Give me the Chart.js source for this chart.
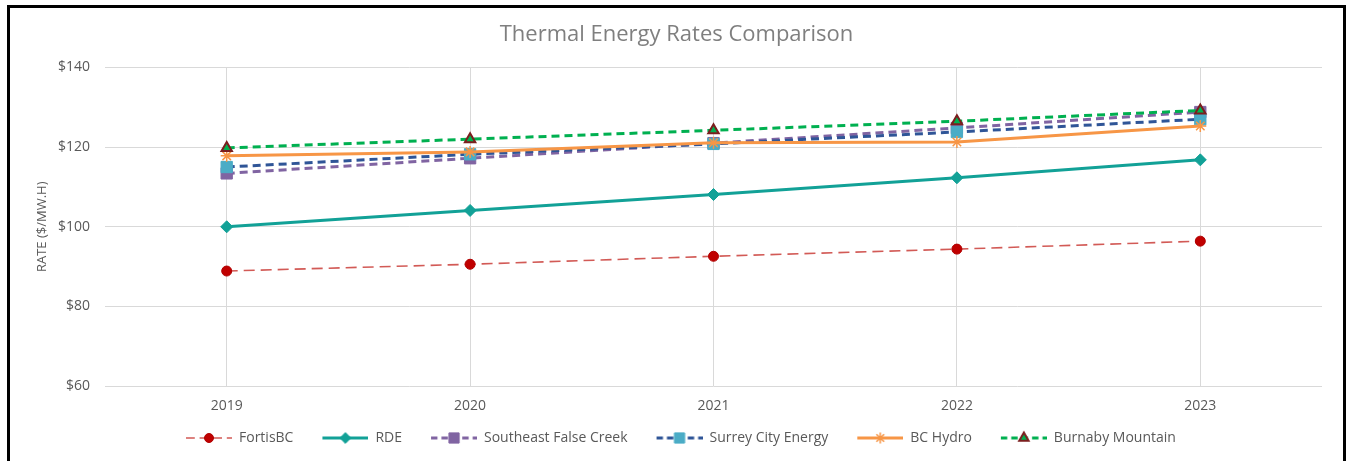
<!DOCTYPE html>
<html>
<head>
<meta charset="utf-8">
<script src="https://cdn.jsdelivr.net/npm/chart.js@4.4.1/dist/chart.umd.min.js"></script>
<style>
  html, body { margin: 0; padding: 0; background: #fff; overflow: hidden; }
  #wrap { position: absolute; left: 0; top: 0; width: 1346px; height: 461px; }
  #frame { position: absolute; left: 7px; top: 5px; width: 1339px; height: 500px;
           box-sizing: border-box; border: 3px solid #000; pointer-events: none; }
</style>
</head>
<body>
<div id="wrap"><canvas id="ratesChart"></canvas></div>
<div id="frame"></div>
<script>
  // Data ($/MW.h)
  const years = ['2019', '2020', '2021', '2022', '2023'];
  const fortisBC = [88.9, 90.6, 92.6, 94.4, 96.4];
  const rde = [100.0, 104.1, 108.1, 112.3, 116.8];
  const southeastFalseCreek = [113.4, 117.2, 121.0, 124.8, 128.8];
  const surreyCityEnergy = [115.0, 118.2, 120.8, 123.8, 127.0];
  const bcHydro = [117.8, 118.8, 121.1, 121.3, 125.3];
  const burnabyMountain = [119.8, 122.0, 124.2, 126.5, 129.2];
  const yTicks = [60, 80, 100, 120, 140];

  const seriesStyle = [
    { label: 'FortisBC', data: fortisBC, line: '#D25A56', width: 1.6, dash: [11, 6], marker: 'circle', radius: 5, fill: '#C00000', edge: '#B00000', edgeW: 1 },
    { label: 'RDE', data: rde, line: '#12A197', width: 3, dash: [], marker: 'rectRot', radius: 6, fill: '#12A197', edge: '#12A197', edgeW: 1 },
    { label: 'Southeast False Creek', data: southeastFalseCreek, line: '#8064A2', width: 3, dash: [8, 5], marker: 'rect', radius: 8, fill: '#8064A2', edge: '#8064A2', edgeW: 1 },
    { label: 'Surrey City Energy', data: surreyCityEnergy, line: '#2F5597', width: 3, dash: [8, 5], marker: 'rect', radius: 8, fill: '#4BACC6', edge: '#4BACC6', edgeW: 1 },
    { label: 'BC Hydro', data: bcHydro, line: '#F79646', width: 3, dash: [], marker: 'star', radius: 6, fill: '#F79646', edge: '#F79646', edgeW: 1.5 },
    { label: 'Burnaby Mountain', data: burnabyMountain, line: '#00B050', width: 3, dash: [8, 5], marker: 'triangle', radius: 6, fill: '#00B050', edge: '#7B1E1E', edgeW: 2 }
  ];

  // small canvas icon: line + marker, like the Excel legend
  const ICON_PAD = 21, ICON_LEN = 46, ICON_H = 16;
  const ICON_W = ICON_PAD + ICON_LEN;
  function legendIcon(s) {
    const c = document.createElement('canvas');
    c.width = ICON_W; c.height = ICON_H;
    const ctx = c.getContext('2d');
    const cy = ICON_H / 2;
    ctx.strokeStyle = s.line;
    ctx.lineWidth = s.width;
    ctx.setLineDash(s.dash.length ? [s.dash[0] * 0.8, s.dash[1] * 0.8] : []);
    ctx.beginPath();
    ctx.moveTo(ICON_PAD, cy);
    ctx.lineTo(ICON_W, cy);
    ctx.stroke();
    ctx.setLineDash([]);
    ctx.fillStyle = s.fill;
    ctx.strokeStyle = s.edge;
    ctx.lineWidth = s.edgeW;
    Chart.helpers.drawPoint(ctx, {
      pointStyle: s.marker, radius: s.radius * 0.9, rotation: 0, borderWidth: s.edgeW
    }, ICON_PAD + ICON_LEN / 2, cy);
    return c;
  }

  // Later series are painted on top, like in Excel
  const datasets = seriesStyle.map(function (s, i) {
    return {
      label: s.label,
      data: s.data,
      borderColor: s.line,
      borderWidth: s.width,
      borderDash: s.dash,
      pointStyle: s.marker,
      pointRadius: s.radius,
      pointBackgroundColor: s.fill,
      pointBorderColor: s.edge,
      pointBorderWidth: s.edgeW,
      tension: 0,
      fill: false,
      order: seriesStyle.length - i
    };
  });

  // nudge legend to where Excel placed it
  const legendSpot = {
    id: 'legendSpot',
    afterLayout(chart) {
      const lg = chart.legend;
      const h = lg.bottom - lg.top;
      lg.left = 186 - ICON_PAD - 8;
      lg.top = 423;
      lg.bottom = lg.top + h;
    }
  };

  const txt = '#595959';
  const ctx = document.getElementById('ratesChart').getContext('2d');
  new Chart(ctx, {
    type: 'line',
    data: { labels: years, datasets: datasets },
    plugins: [legendSpot],
    options: {
      responsive: true,
      maintainAspectRatio: false,
      animation: false,
      layout: { padding: { left: 31, right: 24, top: 5, bottom: 4 } },
      plugins: {
        title: {
          display: true,
          text: 'Thermal Energy Rates Comparison',
          color: '#7F7F7F',
          font: { family: 'Open Sans', size: 22, weight: 'normal' },
          padding: { top: 17, bottom: 19 }
        },
        legend: {
          position: 'bottom',
          align: 'start',
          labels: {
            usePointStyle: true,
            pointStyleWidth: ICON_W,
            padding: 8,
            color: txt,
            font: { family: 'Open Sans', size: 14 },
            generateLabels: function (chart) {
              return seriesStyle.map(function (s, i) {
                return {
                  text: s.label,
                  pointStyle: legendIcon(s),
                  fillStyle: s.fill,
                  strokeStyle: s.edge,
                  lineWidth: 0,
                  fontColor: txt,
                  hidden: !chart.isDatasetVisible(i),
                  datasetIndex: i
                };
              });
            }
          }
        },
        tooltip: { enabled: false }
      },
      scales: {
        x: {
          offset: true,
          grid: { color: '#D9D9D9', drawTicks: false, offset: false },
          border: { display: false },
          ticks: { color: txt, padding: 11, font: { family: 'Open Sans', size: 14 } }
        },
        y: {
          min: yTicks[0],
          max: yTicks[yTicks.length - 1],
          afterFit: function (scale) { scale.width = 74; },
          afterBuildTicks: function (scale) {
            scale.ticks = yTicks.map(function (v) { return { value: v }; });
          },
          grid: { color: '#D9D9D9', drawTicks: false },
          border: { display: false },
          ticks: {
            color: txt,
            padding: 15,
            font: { family: 'Open Sans', size: 14 },
            callback: function (v) { return '$' + v; }
          },
          title: {
            display: true,
            text: 'RATE ($/MW.H)',
            color: txt,
            font: { family: 'Open Sans', size: 13 },
            padding: { top: 3, bottom: 4 }
          }
        }
      }
    }
  });
</script>
</body>
</html>
